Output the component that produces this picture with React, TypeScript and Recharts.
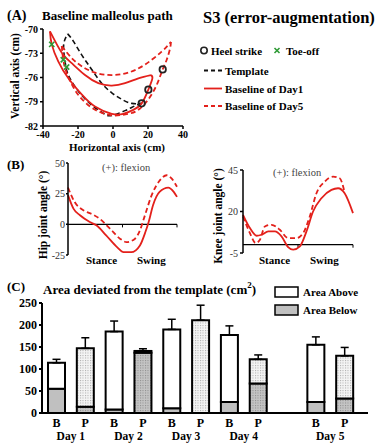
import React from 'react';
import {
  ComposedChart, LineChart, BarChart, Line, Scatter, Bar, XAxis, YAxis,
  ReferenceLine, ErrorBar, Cell,
} from 'recharts';

const FONT = '"Liberation Serif", "Times New Roman", serif';
const RED = '#e3201b';
const GREEN = '#2e9a35';
const INK = '#111';

// ---------- Panel A: malleolus path ----------
const templateSwingX = [-25.9, -22.7, -17.9, -12.2, -6.5, -0.7, 5, 10.7, 16.4];
const templateSwingY = [-70.6, -71.5, -73.2, -75, -76.7, -77.9, -78.7, -79.2, -79.2];
const templateStanceX = [16.4, 12.6, 6.9, -0.7, -5, -12.2, -19.8, -25.5, -27.4, -28.2, -25.9];
const templateStanceY = [-79.2, -79.5, -80.1, -80.7, -80.5, -79.4, -77.7, -75.7, -74, -72, -70.6];
const day1LowerX = [-36, -35, -31.3, -25.5, -17.9, -10.3, -0.7, 5.9, 11.6, 16.4, 20.2, 22.5, 21.7];
const day1LowerY = [-70.3, -71.9, -74, -76.1, -78.1, -79.6, -80.5, -80.5, -80, -79.2, -77.5, -76.1, -75.7];
const day1UpperX = [21.7, 14.5, 6.9, -0.7, -8.4, -16, -22.7, -28.4, -33.1, -36];
const day1UpperY = [-75.7, -76.1, -76.7, -77, -76.7, -75.7, -74.4, -73.2, -71.5, -70.3];
const day5UpperX = [-29.3, -23.6, -17.9, -10.3, -0.7, 8.7, 18.3, 27.8, 33.1];
const day5UpperY = [-72.1, -73.6, -74.6, -75.4, -75.7, -75.4, -74.4, -72.8, -71.6];
const day5LowerX = [33.1, 32.6, 30.7, 28.4, 25, 20.2, 14.5, 8.7, 1, -6, -13, -20, -25, -28, -29.3];
const day5LowerY = [-71.6, -72.4, -73.8, -75, -76.9, -78.7, -80, -80.5, -80.7, -80.4, -79.6, -78.1, -76.2, -74.3, -72.1];
const heelX = [16.4, 20.2, 28.4];
const heelY = [-79.2, -77.5, -75];
const toeX = [-35, -28.4, -26.5];
const toeY = [-71.9, -73.8, -74.7];
const aXTicks = [-40, -20, 0, 20, 40];
const aYTicks = [-82, -79, -76, -73, -70];

// ---------- Panel B: joint angles ----------
const hipDay1X = [0, 5, 11, 20, 26, 35, 45, 51, 58, 66, 71, 74, 78, 84, 92, 97, 100];
const hipDay1Y = [23.8, 12.8, 7.4, 1.9, -0.8, -9, -18.6, -22.7, -22.7, -17.2, -6.3, 1.9, 15.6, 26.5, 30, 26.5, 22.4];
const hipDay5X = [0, 6, 14, 23, 29, 38.5, 47.7, 53.8, 61.5, 66, 70.6, 76.8, 84.4, 90.5, 95, 100];
const hipDay5Y = [30, 18.3, 11.5, 7.9, 4.6, -3.5, -11.7, -14.5, -11.7, -4.9, 7.4, 23.8, 36, 40, 37.4, 30.6];
const kneeDay1X = [0, 6.3, 12.4, 16.9, 23, 29, 35, 41, 45.6, 51.7, 57.7, 63.7, 71.3, 80.4, 86.4, 92.4, 100];
const kneeDay1Y = [18, 10, 5.4, 6, 8, 8, 5, -1.4, -3, -1, 8, 20, 28, 33, 34, 31, 19];
const kneeDay5X = [0, 6.3, 11.5, 15.4, 19.9, 26, 33.5, 41, 48.6, 54.7, 60.7, 66.8, 74.3, 81.9, 87.9, 92.4];
const kneeDay5Y = [17, 7, 1, 3, 11, 12, 9, 4, 4, 7, 17, 31, 38, 41, 40, 31.5];
const hipTicks = [-25, 0, 25, 50];
const kneeTicks = [-5, 20, 45];
const phaseTicks = [50, 100];

// ---------- Panel C: deviated area ----------
const barKeys = ['B1', 'P1', 'B2', 'P2', 'B3', 'P3', 'B4', 'P4', 'gap', 'B5', 'P5'];
const areaBelow = [55, 14, 8, 137, 11, 0, 25, 67, null, 25, 33];
const areaAbove = [59, 133, 177, 4, 179, 211, 152, 55, null, 130, 97];
const areaErr = [8, 24, 24, 5, 23, 34, 21, 10, null, 18, 19];
const cTicks = [0, 50, 100, 150, 200, 250];

const zip = (xs: number[], ys: number[]) => xs.map((x, i) => ({ x, y: ys[i] }));

const barData = barKeys.map((k, i) => ({
  key: k,
  below: areaBelow[i],
  above: areaAbove[i],
  err: areaErr[i] == null ? null : [0, areaErr[i]],
}));

const HeelShape = (p: any) => (
  <circle cx={p.cx} cy={p.cy} r={3.2} fill="none" stroke="#222" strokeWidth={1.8} />
);
const ToeShape = (p: any) => (
  <g stroke={GREEN} strokeWidth={1.6}>
    <line x1={p.cx - 2.6} y1={p.cy - 2.6} x2={p.cx + 2.6} y2={p.cy + 2.6} />
    <line x1={p.cx - 2.6} y1={p.cy + 2.6} x2={p.cx + 2.6} y2={p.cy - 2.6} />
  </g>
);

const BarTick = (props: any) => {
  const { x, y, payload } = props;
  const k: string = payload.value;
  if (k === 'gap') return null;
  const letter = k[0];
  return (
    <g>
      <text x={x} y={y + 6} textAnchor="middle" dominantBaseline="central"
        style={{ fontFamily: FONT, fontWeight: 'bold', fontSize: 12 }} fill="#000">{letter}</text>
      {letter === 'B' && (
        <text x={x + 14.4} y={y + 19} textAnchor="middle" dominantBaseline="central"
          style={{ fontFamily: FONT, fontWeight: 'bold', fontSize: 11.5 }} fill="#000">{`Day ${k.slice(1)}`}</text>
      )}
    </g>
  );
};

const T = (p: any) => (
  <text dominantBaseline="central" fill="#000"
    style={{ fontFamily: FONT, fontWeight: p.w ?? 'bold', fontSize: p.s }}
    {...p} />
);

const abs = (l: number, t: number): React.CSSProperties => ({ position: 'absolute', left: l, top: t });

export default function App() {
  const aTick = { fontSize: 10, fontWeight: 'bold', fill: '#000', fontFamily: FONT } as any;
  const bTick = { fontSize: 10, fill: '#333', fontFamily: FONT } as any;
  return (
    <div style={{ position: 'absolute', left: 0, top: 0, width: 386, height: 443, background: '#fff', fontFamily: FONT }}>
      <svg width={0} height={0} style={{ position: 'absolute' }}>
        <defs>
          <pattern id="dotLight" width="2.5" height="2.5" patternUnits="userSpaceOnUse">
            <rect width="2.5" height="2.5" fill="#f4f4f4" />
            <rect width="1" height="1" fill="#a8a8a8" />
          </pattern>
          <pattern id="dotDark" width="2.5" height="2.5" patternUnits="userSpaceOnUse">
            <rect width="2.5" height="2.5" fill="#c4c4c4" />
            <rect width="1" height="1" fill="#8a8a8a" />
          </pattern>
        </defs>
      </svg>

      {/* Panel A */}
      <div style={abs(0, 0)}>
        <ComposedChart width={190} height={160} margin={{ top: 29, right: 7, bottom: 14, left: 0 }}>
          <XAxis dataKey="x" type="number" domain={[-40, 40]} ticks={aXTicks} allowDataOverflow
            height={20} tickSize={3} tickMargin={2} tick={aTick} stroke="#000" strokeWidth={1.5} />
          <YAxis dataKey="y" type="number" domain={[-82, -70]} ticks={aYTicks} allowDataOverflow
            width={43} tickSize={3} tickMargin={2} tick={aTick} stroke="#000" strokeWidth={1.5} />
          <Line data={zip(templateSwingX, templateSwingY)} dataKey="y" type="natural" stroke={INK}
            strokeWidth={1.6} strokeDasharray="5 3" dot={false} isAnimationActive={false} />
          <Line data={zip(templateStanceX, templateStanceY)} dataKey="y" type="natural" stroke={INK}
            strokeWidth={1.6} strokeDasharray="5 3" dot={false} isAnimationActive={false} />
          <Line data={zip(day1LowerX, day1LowerY)} dataKey="y" type="natural" stroke={RED}
            strokeWidth={1.8} dot={false} isAnimationActive={false} />
          <Line data={zip(day1UpperX, day1UpperY)} dataKey="y" type="natural" stroke={RED}
            strokeWidth={1.8} dot={false} isAnimationActive={false} />
          <Line data={zip(day5UpperX, day5UpperY)} dataKey="y" type="natural" stroke={RED}
            strokeWidth={1.8} strokeDasharray="5 3" dot={false} isAnimationActive={false} />
          <Line data={zip(day5LowerX, day5LowerY)} dataKey="y" type="natural" stroke={RED}
            strokeWidth={1.8} strokeDasharray="5 3" dot={false} isAnimationActive={false} />
          <Scatter data={zip(heelX, heelY)} shape={HeelShape} isAnimationActive={false} />
          <Scatter data={zip(toeX, toeY)} shape={ToeShape} isAnimationActive={false} />
        </ComposedChart>
      </div>

      {/* Panel B hip */}
      <div style={abs(0, 150)}>
        <LineChart width={190} height={120} margin={{ top: 13, right: 13, bottom: 15, left: 0 }}>
          <XAxis dataKey="x" type="number" domain={[0, 100]} hide />
          <YAxis type="number" domain={[-25, 50]} ticks={hipTicks} width={68} tickSize={2} tickMargin={1}
            tick={bTick} stroke="#000" strokeWidth={1.5} />
          <ReferenceLine y={0} stroke="#000" strokeWidth={1.3} />
          {phaseTicks.map((t) => (
            <ReferenceLine key={t} segment={[{ x: t, y: 0 }, { x: t, y: -2.5 }]} stroke="#000" strokeWidth={1} />
          ))}
          <Line data={zip(hipDay1X, hipDay1Y)} dataKey="y" type="monotone" stroke={RED} strokeWidth={1.8}
            dot={false} isAnimationActive={false} />
          <Line data={zip(hipDay5X, hipDay5Y)} dataKey="y" type="monotone" stroke={RED} strokeWidth={1.8}
            strokeDasharray="5 3" dot={false} isAnimationActive={false} />
        </LineChart>
      </div>

      {/* Panel B knee */}
      <div style={abs(190, 150)}>
        <LineChart width={196} height={120} margin={{ top: 20, right: 33, bottom: 17, left: 0 }}>
          <XAxis dataKey="x" type="number" domain={[0, 100]} hide />
          <YAxis type="number" domain={[-5, 45]} ticks={kneeTicks} width={53} tickSize={3} tickMargin={2}
            tick={bTick} stroke="#000" strokeWidth={1.5} />
          <ReferenceLine y={0} stroke="#000" strokeWidth={1.3} />
          {phaseTicks.map((t) => (
            <ReferenceLine key={t} segment={[{ x: t, y: 0 }, { x: t, y: -1.8 }]} stroke="#000" strokeWidth={1} />
          ))}
          <Line data={zip(kneeDay1X, kneeDay1Y)} dataKey="y" type="monotone" stroke={RED} strokeWidth={1.8}
            dot={false} isAnimationActive={false} />
          <Line data={zip(kneeDay5X, kneeDay5Y)} dataKey="y" type="monotone" stroke={RED} strokeWidth={1.8}
            strokeDasharray="5 3" dot={false} isAnimationActive={false} />
        </LineChart>
      </div>

      {/* Panel C */}
      <div style={abs(0, 290)}>
        <BarChart width={386} height={153} data={barData} margin={{ top: 13, right: 18, bottom: 0, left: 0 }}
          barSize={17}>
          <XAxis dataKey="key" type="category" interval={0} height={30} tickLine={false} tickSize={0}
            tickMargin={4} padding={{ left: 0, right: 9 }} tick={<BarTick />} stroke="#000" strokeWidth={2} />
          <YAxis type="number" domain={[0, 250]} ticks={cTicks} width={42} tickSize={3} tickMargin={2}
            tick={{ fontSize: 12, fontWeight: 'bold', fill: '#000', fontFamily: FONT } as any}
            stroke="#000" strokeWidth={2} />
          <Bar dataKey="below" stackId="a" stroke="#000" strokeWidth={2} isAnimationActive={false}>
            {barKeys.map((k, i) => (
              <Cell key={i} fill={k[0] === 'P' ? 'url(#dotDark)' : '#c0c0c0'} />
            ))}
          </Bar>
          <Bar dataKey="above" stackId="a" stroke="#000" strokeWidth={2} isAnimationActive={false}>
            {barKeys.map((k, i) => (
              <Cell key={i} fill={k[0] === 'P' ? 'url(#dotLight)' : '#ffffff'} />
            ))}
            <ErrorBar dataKey="err" width={4} stroke="#000" strokeWidth={1.5} direction="y" />
          </Bar>
        </BarChart>
      </div>

      {/* Text & legends */}
      <svg width={386} height={443} style={{ position: 'absolute', left: 0, top: 0, pointerEvents: 'none' }}>
        <T x={7} y={15} s={14}>(A)</T>
        <T x={42} y={15} s={13}>Baseline malleolus path</T>
        <T x={203} y={17} s={16.5}>S3 (error-augmentation)</T>

        <circle cx={204} cy={50.5} r={3.2} fill="none" stroke="#222" strokeWidth={1.6} />
        <T x={211} y={50.5} s={11}>Heel strike</T>
        <g stroke={GREEN} strokeWidth={1.6}>
          <line x1={274.5} y1={48} x2={279.5} y2={53} />
          <line x1={274.5} y1={53} x2={279.5} y2={48} />
        </g>
        <T x={286} y={50.5} s={11}>Toe-off</T>
        <line x1={204} y1={70.5} x2={222} y2={70.5} stroke={INK} strokeWidth={1.8} strokeDasharray="4 3" />
        <T x={225} y={70.5} s={11}>Template</T>
        <line x1={204} y1={88.5} x2={222} y2={88.5} stroke={RED} strokeWidth={1.8} />
        <T x={225} y={88.5} s={11}>Baseline of Day1</T>
        <line x1={204} y1={106} x2={222} y2={106} stroke={RED} strokeWidth={1.8} strokeDasharray="4 3" />
        <T x={225} y={106} s={11}>Baseline of Day5</T>

        <T x={15} y={76} s={11.5} textAnchor="middle" transform="rotate(-90 15 76)">Vertical axis (cm)</T>
        <T x={117} y={147} s={11} textAnchor="middle">Horizontal axis (cm)</T>

        <T x={7} y={164} s={13}>(B)</T>
        <T x={43} y={215} s={11.5} textAnchor="middle" transform="rotate(-90 43 215)">Hip joint angle (°)</T>
        <T x={102} y={167} s={10.5} w="normal" fill="#444">(+): flexion</T>
        <T x={86} y={260} s={11}>Stance</T>
        <T x={137} y={260} s={11}>Swing</T>
        <T x={218} y={216} s={11.5} textAnchor="middle" transform="rotate(-90 218 216)">Knee joint angle (°)</T>
        <T x={273} y={172} s={10.5} w="normal" fill="#444">(+): flexion</T>
        <T x={259} y={260} s={11}>Stance</T>
        <T x={310} y={260} s={11}>Swing</T>

        <T x={7} y={286} s={13}>(C)</T>
        <T x={43} y={289} s={13}>Area deviated from the template (cm<tspan dy={-4} fontSize={9}>2</tspan><tspan dy={4}>)</tspan></T>
        <rect x={275} y={287} width={23} height={10} fill="#fff" stroke="#000" strokeWidth={1.5} />
        <T x={303} y={292} s={11}>Area Above</T>
        <rect x={275} y={305} width={23} height={10} fill="#c0c0c0" stroke="#000" strokeWidth={1.5} />
        <T x={303} y={310} s={11}>Area Below</T>
      </svg>
    </div>
  );
}
